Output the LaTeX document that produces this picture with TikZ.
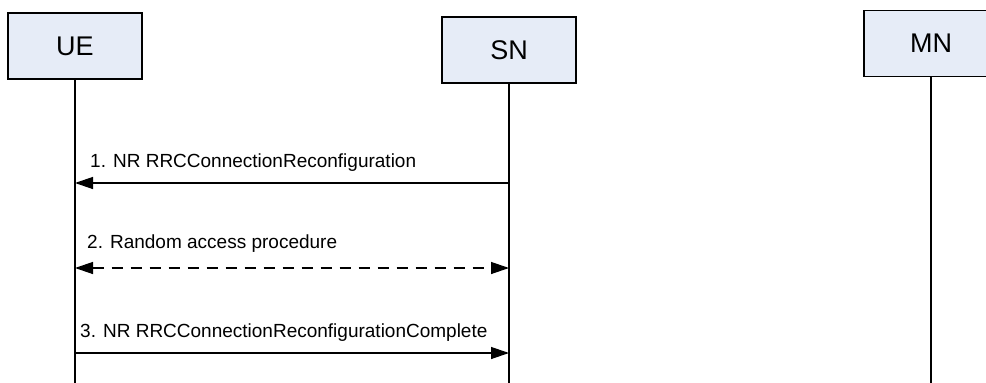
\documentclass[tikz,border=0pt]{standalone}
\usepackage{fontspec}
\setmainfont{Liberation Sans}
\usetikzlibrary{arrows.meta}
\definecolor{boxblue}{RGB}{230,236,247}

\begin{document}
\begin{tikzpicture}[x=1pt,y=-1pt,
    entity/.style={draw,line width=1.5pt,fill=boxblue,minimum width=134pt,
      minimum height=66pt,inner sep=0pt,font=\fontsize{27}{30}\selectfont},
    lifeline/.style={line width=1.3pt},
    msg/.style={line width=1.3pt,-{Triangle[length=18pt,width=12pt]}},
    msglabel/.style={anchor=base west,inner sep=0pt,font=\fontsize{19}{22}\selectfont}]
\useasboundingbox (0,0) rectangle (986,383);
% entities
\node[entity] (ue) at (75,46) {UE};
\node[entity] (sn) at (509,50) {SN};
\node[entity] (mn) at (931,43.5) {MN};
% lifelines
\foreach \e in {ue,sn,mn}
  \coordinate (\e-bot) at (\e.south |- 0,390);
\foreach \e in {ue,sn,mn}
  \draw[lifeline] (\e.south) -- (\e-bot);
\foreach \n/\y in {1/183,2/268,3/353} {
  \coordinate (ue-\n) at (ue.south |- 0,\y);
  \coordinate (sn-\n) at (sn.south |- 0,\y);
}
% messages
\draw[msg] (sn-1) -- (ue-1);
\node[msglabel] (l1) at (90,167) {1. NR RRCConnectionReconfiguration};
\draw[msg,{Triangle[length=18pt,width=12pt]}-{Triangle[length=18pt,width=12pt]},
  dash pattern=on 11pt off 8pt] (ue-2) -- (sn-2);
\node[msglabel] (l2) at (87,248) {2. Random access procedure};
\draw[msg] (ue-3) -- (sn-3);
\node[msglabel] (l3) at (80,337) {3. NR RRCConnectionReconfigurationComplete};
\end{tikzpicture}
\end{document}
